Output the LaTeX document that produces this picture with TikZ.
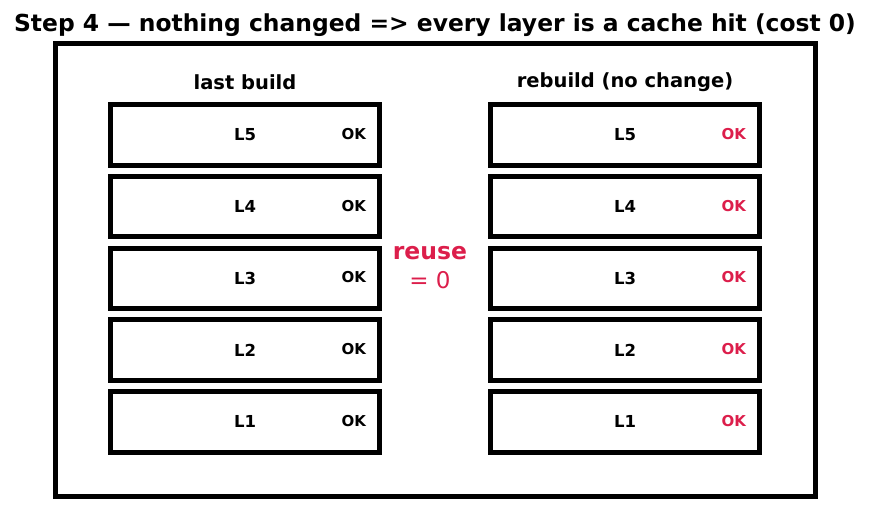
\documentclass[tikz,border=0pt]{standalone}
\usepackage{fontspec}
\setmainfont{DejaVu Sans}
\definecolor{hit}{RGB}{220,30,75}
\begin{document}
\begin{tikzpicture}[x=1pt,y=-1pt,
  layerbox/.style={draw=black,line width=5pt,minimum width=268.5pt,minimum height=60.5pt,inner sep=0pt},
  lbl/.style={font=\bfseries\fontsize{16.5}{18}\selectfont,inner sep=0pt},
  ok/.style={font=\bfseries\fontsize{15}{17}\selectfont,inner sep=0pt,anchor=west},
  hdr/.style={font=\bfseries\fontsize{19.5}{22}\selectfont,inner sep=0pt}]
\useasboundingbox (0,0) rectangle (870,510);
\node[font=\bfseries\fontsize{23.4}{26}\selectfont,inner sep=0pt] (title) at (435,25) {Step 4 — nothing changed => every layer is a cache hit (cost 0)};
\draw[line width=5pt] (55.2,43.5) rectangle (815.8,496.2);
\node[hdr] (hl) at (245,82) {last build};
\node[hdr] (hr) at (625,82) {rebuild (no change)};
\foreach \n/\y in {5/134.8,4/206.6,3/278.5,2/350.2,1/421.8}{
  \node[layerbox] (a\n) at (245,\y) {};
  \node[lbl] (al\n) at (245,\y) {L\n};
  \node[ok] (ao\n) at (341.5,\y-1) {OK};
  \node[layerbox] (b\n) at (625,\y) {};
  \node[lbl] (bl\n) at (625,\y) {L\n};
  \node[ok,text=hit] (bo\n) at (721.5,\y-1) {OK};
}
\node[font=\bfseries\fontsize{23.5}{26}\selectfont,text=hit,inner sep=0pt] (reuse) at (430,253) {reuse};
\node[font=\fontsize{23}{26}\selectfont,text=hit,inner sep=0pt] (zero) at (430,280) {= 0};
\end{tikzpicture}
\end{document}
